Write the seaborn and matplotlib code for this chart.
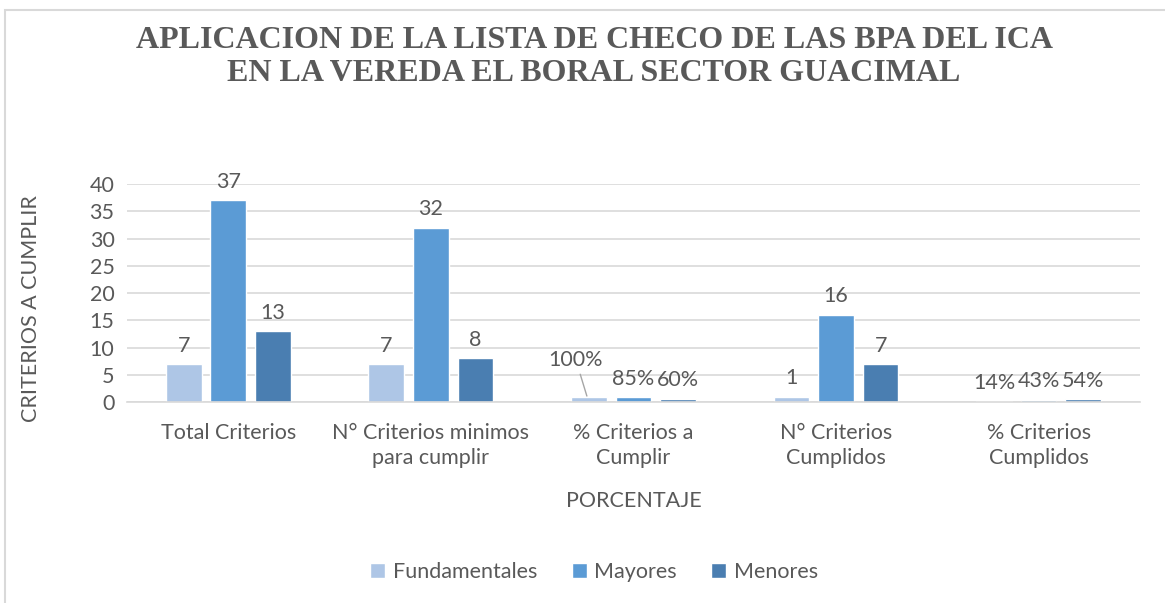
import pandas as pd
import seaborn as sns
import matplotlib.pyplot as plt
from matplotlib.patches import Rectangle

# Data
categories = ["Total Criterios", "N° Criterios minimos\npara cumplir", "% Criterios a\nCumplir",
              "N° Criterios\nCumplidos", "% Criterios\nCumplidos"]
series = ["Fundamentales", "Mayores", "Menores"]
fundamentales = [7, 7, 1.00, 1, 0.14]
mayores = [37, 32, 0.85, 16, 0.43]
menores = [13, 8, 0.60, 7, 0.54]
percent_rows = [False, False, True, False, True]
colors = ["#AEC6E6", "#5B9BD5", "#4A7EB1"]
yticks = [0, 5, 10, 15, 20, 25, 30, 35, 40]

text_color = "#595959"
grid_color = "#D9D9D9"
fs = 15.5

# Build long dataframe
df = pd.DataFrame({
    "categoria": categories * 3,
    "serie": [s for s in series for _ in categories],
    "valor": fundamentales + mayores + menores,
})

sns.set_theme(style="white")
plt.rcParams["font.family"] = ["Lato", "DejaVu Sans"]

fig = plt.figure(figsize=(11.65, 6.03), dpi=100)
ax = fig.add_axes([0.109, 0.3333, 0.8695, 0.3615])

sns.barplot(
    data=df,
    x="categoria",
    y="valor",
    hue="serie",
    palette=colors,
    saturation=1,
    width=0.66,
    gap=0.2,
    ax=ax,
    legend=True,
)

ax.set_ylim(0, 40)
ax.set_yticks(yticks)
ax.yaxis.grid(True, color=grid_color, linewidth=1.2)
ax.set_axisbelow(True)
for side in ["top", "right", "left"]:
    ax.spines[side].set_visible(False)
ax.spines["bottom"].set_color(grid_color)
ax.spines["bottom"].set_linewidth(1.2)
ax.tick_params(axis="both", length=0, labelsize=fs, colors=text_color)
ax.tick_params(axis="x", pad=15)
ax.tick_params(axis="y", pad=9)
for lbl in ax.get_xticklabels():
    lbl.set_linespacing(1.35)

ax.set_xlabel("PORCENTAJE", fontsize=fs, color=text_color)
ax.set_ylabel("CRITERIOS A CUMPLIR", fontsize=fs, color=text_color)
ax.xaxis.set_label_coords(0.5, -0.41)
ax.yaxis.set_label_coords(-0.085, 0.43)

# Data labels (percent rows shown as %)
for container, vals in zip(ax.containers, [fundamentales, mayores, menores]):
    for bar, v, pct in zip(container, vals, percent_rows):
        xc = bar.get_x() + bar.get_width() / 2
        label = f"{v * 100:.0f}%" if pct else f"{v:.0f}"
        if label == "100%":
            # label moved away with a leader line
            ax.annotate(label, xy=(xc - 0.01, v + 0.1), xytext=(-8, 19), textcoords="offset points",
                        ha="center", va="bottom", fontsize=fs, color=text_color,
                        arrowprops=dict(arrowstyle="-", color="#A6A6A6", lw=1,
                                        shrinkA=1, shrinkB=0))
        else:
            ax.annotate(label, xy=(xc, v), xytext=(0, 6), textcoords="offset points",
                        ha="center", va="bottom", fontsize=fs, color=text_color)

# Legend at the bottom
handles, labels = ax.get_legend_handles_labels()
ax.legend_.remove()
fig.legend(handles, labels, loc="center", bbox_to_anchor=(0.51, 0.052), ncol=3, frameon=False,
           fontsize=fs, labelcolor=text_color, handlelength=0.7, handleheight=0.7,
           handletextpad=0.35, columnspacing=1.6)

# Title
fig.text(0.51, 0.905, "APLICACION DE LA LISTA DE CHECO DE LAS BPA DEL ICA\nEN LA VEREDA EL BORAL SECTOR GUACIMAL",
         ha="center", va="center", fontsize=23, fontweight="bold", color=text_color,
         family="Liberation Serif", linespacing=1.2)

# Chart area border
fig.patches.append(Rectangle((5 / 1165, -0.1), 1.2, 1 - 10 / 603 + 0.1, transform=fig.transFigure,
                             fill=False, edgecolor=grid_color, linewidth=1.5))

fig.savefig("out.png", dpi=100)
